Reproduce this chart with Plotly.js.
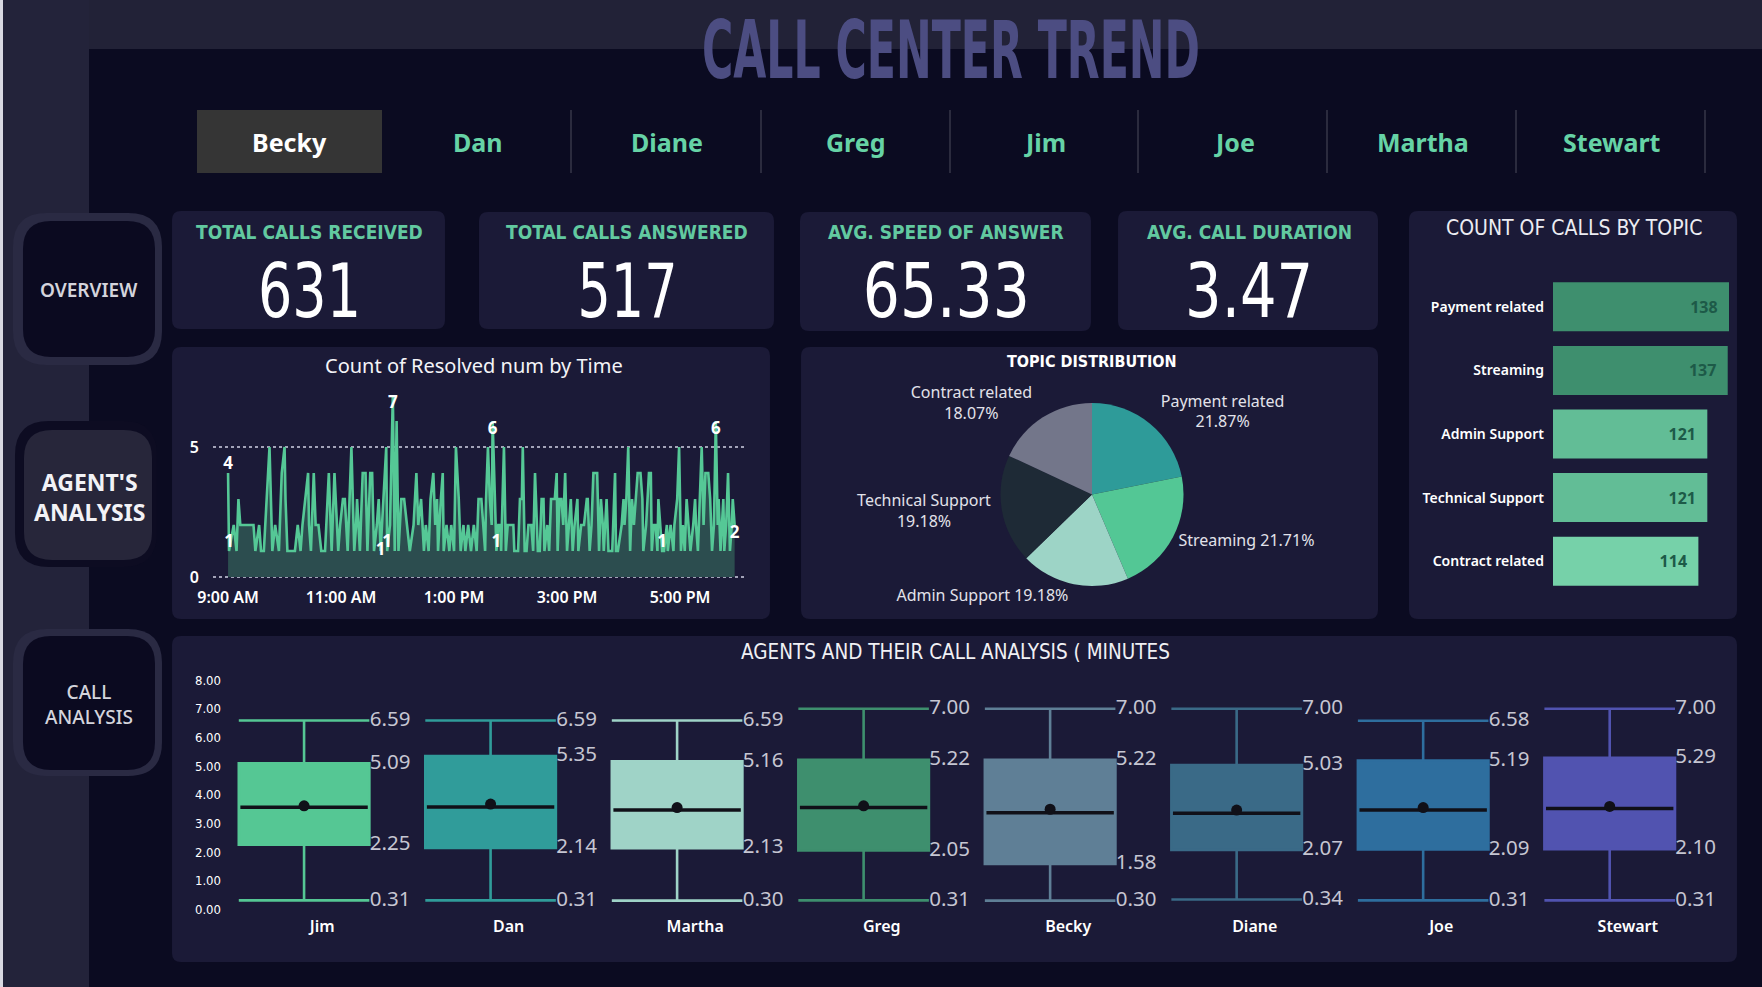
<!DOCTYPE html>
<html>
<head>
<meta charset="utf-8">
<script src="https://cdn.plot.ly/plotly-3.0.1.min.js"></script>
<style>
html,body{margin:0;padding:0;background:#0b0b21;overflow:hidden;}
#chart{width:1762px;height:987px;}
</style>
</head>
<body>
<div id="chart"></div>
<script>
// ---------------- DATA ----------------
const dashboardTitle = 'CALL CENTER TREND';
const tabNames = ['Becky', 'Dan', 'Diane', 'Greg', 'Jim', 'Joe', 'Martha', 'Stewart'];
const selectedTab = 'Becky';
const navItems = ['OVERVIEW', "AGENT'S<br>ANALYSIS", 'CALL<br>ANALYSIS'];

const kpiLabels = ['TOTAL CALLS RECEIVED', 'TOTAL CALLS ANSWERED', 'AVG. SPEED OF ANSWER', 'AVG. CALL DURATION'];
const kpiValues = ['631', '517', '65.33', '3.47'];

const topics = ['Payment related', 'Streaming', 'Admin Support', 'Technical Support', 'Contract related'];
const topicCounts = [138, 137, 121, 121, 114];

// minutes after 9:00 AM and resolved count at that time
const lineMinutes = [0,1,6,9,11,13,20,27,29,33,35,38,44,47,50,54,57,60,61,63,67,71,74,77,79,85,86,88,91,93,96,99,103,107,110,113,117,119,122,124,127,129,131,134,136,137,140,143,146,148,149,151,153,155,158,160,162,165,168,169,172,175,177,179,181,184,187,190,193,197,200,202,205,208,210,213,215,218,220,222,223,226,228,229,232,235,237,240,242,245,247,250,252,255,258,261,264,266,269,271,
273,274,276,278,280,281,283,285,287,289,290,293,295,297,299,303,304,308,310,312,313,315,317,319,322,324,326,327,329,331,333,335,336,339,341,343,347,349,350,352,354,356,358,360,362,364,366,368,371,372,375,378,381,382,384,386,388,392,394,396,398,399,402,404,408,411,412,414,418,420,421,423,425,427,429,431,433,435,438,440,441,444,447,449,450,452,454,456,457,459,461,463,466,467,470,473,474,477,479,481,483,485,487,489,491,494,496,497,499,501,503,505,507,510,512,514,516,518,520,521,523,526,527,529,531,533,535,536,538];
const lineCounts = [4,1,2,1,3,2,2,2,1,2,1,1,5,1,2,1,4,5,3,1,1,1,2,1,2,4,2,1,4,2,2,1,1,4,1,4,1,2,3,3,1,3,5,1,2,3,1,4,4,1,2,4,4,1,2,3,1,3,5,1,2,7,1,6,1,3,3,2,1,2,4,2,3,1,2,1,3,4,2,3,1,3,4,1,2,1,2,1,5,3,1,2,1,2,1,2,1,3,3,2,
1,3,5,3,2,6,3,1,2,2,1,5,1,2,2,2,1,1,3,3,5,1,1,2,2,1,4,3,1,1,3,3,1,2,1,3,3,4,1,3,3,2,4,1,2,3,1,2,3,1,2,2,3,3,1,2,4,4,1,3,2,1,3,1,1,4,1,1,2,3,2,3,5,1,3,2,3,4,4,3,1,2,4,4,1,2,2,1,3,2,1,1,2,1,2,1,2,3,5,1,2,1,3,2,1,2,3,2,1,3,5,2,4,4,3,1,2,6,2,3,1,3,1,2,4,1,2,3,2];
const labeledMinutes = [0, 1, 162, 169, 175, 281, 285, 461, 518, 538];
const labelPositions = ['top center','top center','middle center','top center','bottom center','bottom center','top center','top center','bottom center','bottom center'];
const timeTickMinutes = [0, 120, 240, 360, 480];
const timeTickLabels = ['9:00 AM', '11:00 AM', '1:00 PM', '3:00 PM', '5:00 PM'];

const agents = ['Jim', 'Dan', 'Martha', 'Greg', 'Becky', 'Diane', 'Joe', 'Stewart'];
const boxMin    = [0.31, 0.31, 0.30, 0.31, 0.30, 0.34, 0.31, 0.31];
const boxQ1     = [2.25, 2.14, 2.13, 2.05, 1.58, 2.07, 2.09, 2.10];
const boxMedian = [3.56, 3.57, 3.46, 3.55, 3.37, 3.35, 3.46, 3.52];
const boxMean   = [3.61, 3.67, 3.55, 3.61, 3.49, 3.46, 3.55, 3.59];
const boxQ3     = [5.09, 5.35, 5.16, 5.22, 5.22, 5.03, 5.19, 5.29];
const boxMax    = [6.59, 6.59, 6.59, 7.00, 7.00, 7.00, 6.58, 7.00];
const durationTicks = [0, 1, 2, 3, 4, 5, 6, 7, 8];

// ---------------- STYLE ----------------
const W = 1762, H = 987;
const BG = '#0b0b21', HEADER = '#222237', SIDEBAR = '#23233a', CARD = '#1b1a37';
const MINT = '#66d3a6';
const SANS = '"Noto Sans", "Open Sans", sans-serif';
const COND = '"DejaVu Sans Condensed", "Noto Sans", sans-serif';
const barColors = ['#3e8f6e', '#3e8f6e', '#62bd96', '#62bd96', '#76d1a9'];
const pieColors = ['#2e9b99', '#53c795', '#9dd4c6', '#1e2a36', '#73768a'];
const boxColors = ['#55c794', '#309c9a', '#9fd3c7', '#3e8f6e', '#5f7f96', '#3a6a87', '#2e6e9e', '#5153b0'];
// target drawn widths (px) for condensed display texts
const fitWidths = {};
fitWidths[dashboardTitle] = 498;
const kpiValueWidths = [103, 100, 167, 128];
kpiValues.forEach((v, i) => { fitWidths[v] = kpiValueWidths[i]; });

function P(x, y) { return (x / W).toFixed(5) + ',' + (1 - y / H).toFixed(5); }
function rrect(x0, y0, x1, y1, r, fill) {
  const path = 'M' + P(x0 + r, y0) + ' L' + P(x1 - r, y0) + ' Q' + P(x1, y0) + ' ' + P(x1, y0 + r) +
    ' L' + P(x1, y1 - r) + ' Q' + P(x1, y1) + ' ' + P(x1 - r, y1) +
    ' L' + P(x0 + r, y1) + ' Q' + P(x0, y1) + ' ' + P(x0, y1 - r) +
    ' L' + P(x0, y0 + r) + ' Q' + P(x0, y0) + ' ' + P(x0 + r, y0) + ' Z';
  return {type: 'path', xref: 'paper', yref: 'paper', path: path, fillcolor: fill, line: {width: 0}, layer: 'below'};
}
function rect(x0, y0, x1, y1, fill) {
  return {type: 'rect', xref: 'paper', yref: 'paper', x0: x0 / W, x1: x1 / W, y0: 1 - y1 / H, y1: 1 - y0 / H,
    fillcolor: fill, line: {width: 0}, layer: 'below'};
}
function vline(x, y0, y1, color) {
  return {type: 'line', xref: 'paper', yref: 'paper', x0: x / W, x1: x / W, y0: 1 - y1 / H, y1: 1 - y0 / H,
    line: {color: color, width: 1}, layer: 'below'};
}
function T(text, x, y, size, color, family, weight, xanchor) {
  return {xref: 'paper', yref: 'paper', x: x / W, y: 1 - y / H, text: text, showarrow: false,
    xanchor: xanchor || 'center', yanchor: 'middle', align: 'center',
    font: {size: size, color: color, family: family, weight: weight || 400}};
}
function dom(a, b, total) { return [a / total, b / total]; }
function ydom(top, bottom) { return [1 - bottom / H, 1 - top / H]; }

// ---------------- SHAPES ----------------
const shapes = [];
shapes.push(rect(0, 0, 3, H, '#d9d9e2'));
shapes.push(rect(3, 0, 89, H, SIDEBAR));
shapes.push(rect(89, 0, W, 49, HEADER));
shapes.push(rect(197, 110, 382, 173, '#353535'));
[571, 761, 950, 1138, 1327, 1516, 1705].forEach(x => shapes.push(vline(x, 110, 173, '#4c4c5c')));
shapes.push(rrect(13, 213, 162, 365, 34, '#2a2a43'));
shapes.push(rrect(23, 221, 155, 357, 28, '#0b0a20'));
shapes.push(rrect(15, 421, 157, 567, 34, '#0d0c22'));
shapes.push(rrect(24, 430, 152, 560, 28, '#27263a'));
shapes.push(rrect(13, 629, 162, 776, 34, '#2a2a43'));
shapes.push(rrect(23, 636, 155, 770, 28, '#0b0a20'));
shapes.push(rrect(172, 211, 445, 329, 9, CARD));
shapes.push(rrect(479, 212, 774, 329, 9, CARD));
shapes.push(rrect(800, 212, 1091, 331, 9, CARD));
shapes.push(rrect(1118, 211, 1378, 330, 9, CARD));
shapes.push(rrect(1409, 211, 1737, 619, 9, CARD));
shapes.push(rrect(172, 347, 770, 619, 9, CARD));
shapes.push(rrect(801, 347, 1378, 619, 9, CARD));
shapes.push(rrect(172, 636, 1737, 962, 9, CARD));

// ---------------- ANNOTATIONS ----------------
const annotations = [];
annotations.push(T(dashboardTitle, 951, 50, 80, '#4c4d82', COND, 700));
tabNames.forEach((n, i) => {
  annotations.push(T(n, 289 + i * 189, 142, 25, n === selectedTab ? '#ffffff' : MINT, SANS, 700));
});
annotations.push(T(navItems[0], 89, 290, 19, '#d4d4dc', SANS, 600));
annotations.push(T(navItems[1], 89, 497, 23, '#f2f2f6', SANS, 700));
annotations.push(T(navItems[2], 89, 704, 19, '#d4d4dc', SANS, 500));
const kpiCenters = [309, 627, 946, 1249];
kpiLabels.forEach((l, i) => {
  annotations.push(T(l, kpiCenters[i], 232, 19, '#62c9a0', COND, 700));
  annotations.push(T(kpiValues[i], kpiCenters[i], 291, 74, '#ffffff', COND, 400));
});
annotations.push(T('COUNT OF CALLS BY TOPIC', 1574, 228, 21, '#ececf2', COND, 400));
annotations.push(T('Count of Resolved num by Time', 474, 365, 20, '#f4f4f8', SANS, 400));
annotations.push(T('TOPIC DISTRIBUTION', 1092, 362, 16, '#ffffff', COND, 700));
annotations.push(T('AGENTS AND THEIR CALL ANALYSIS ( MINUTES', 955, 652, 20.5, '#f0f0f4', COND, 400));

// ---------------- TRACES ----------------
const data = [];
data.push({type: 'scatter', mode: 'lines', x: lineMinutes, y: lineCounts, xaxis: 'x', yaxis: 'y',
  line: {color: '#55c896', width: 2.6}, fill: 'tozeroy', fillcolor: '#2c4d4f', hoverinfo: 'skip'});
const lblX = [], lblY = [];
labeledMinutes.forEach(m => { const k = lineMinutes.indexOf(m); lblX.push(m); lblY.push(lineCounts[k]); });
data.push({type: 'scatter', mode: 'text', x: lblX, y: lblY, text: lblY.map(String), textposition: labelPositions,
  xaxis: 'x', yaxis: 'y', cliponaxis: false, textfont: {color: '#ffffff', size: 17, family: SANS, weight: 700}, hoverinfo: 'skip'});

data.push({type: 'pie', labels: topics, values: topicCounts, sort: false, direction: 'clockwise', rotation: 0,
  marker: {colors: pieColors, line: {width: 0}},
  texttemplate: ['%{label}<br>%{percent:.2%}', '%{label} %{percent:.2%}', '%{label} %{percent:.2%}', '%{label}<br>%{percent:.2%}', '%{label}<br>%{percent:.2%}'],
  textposition: 'outside', outsidetextfont: {color: '#e2e2ea', size: 16, family: SANS},
  domain: {x: dom(1000.5, 1183.5, W), y: ydom(403, 586)}, showlegend: false, hoverinfo: 'skip', automargin: false});

data.push({type: 'bar', orientation: 'h', y: topics, x: topicCounts, xaxis: 'x2', yaxis: 'y2',
  marker: {color: barColors}, width: 0.77, texttemplate: '%{x}\u00a0\u00a0', textposition: 'inside', insidetextanchor: 'end',
  textfont: {color: '#1d5a48', size: 16, family: SANS, weight: 700}, hoverinfo: 'skip'});

agents.forEach((a, i) => {
  data.push({type: 'box', x: [i], q1: [boxQ1[i]], median: [boxMedian[i]], q3: [boxQ3[i]],
    lowerfence: [boxMin[i]], upperfence: [boxMax[i]], xaxis: 'x3', yaxis: 'y3',
    fillcolor: boxColors[i], line: {color: boxColors[i], width: 2.6}, width: 0.7, whiskerwidth: 1,
    boxpoints: false, hoverinfo: 'skip', showlegend: false});
});
const idx = agents.map((a, i) => i);
data.push({type: 'scatter', mode: 'markers', x: idx, y: boxMedian, xaxis: 'x3', yaxis: 'y3', cliponaxis: false,
  marker: {symbol: 'line-ew', size: 91, line: {width: 3.5, color: '#101018'}}, hoverinfo: 'skip'});
data.push({type: 'scatter', mode: 'markers', x: idx, y: boxMean, xaxis: 'x3', yaxis: 'y3', cliponaxis: false,
  marker: {symbol: 'circle', size: 11, color: '#101018'}, hoverinfo: 'skip'});
const bx = [], by = [], bt = [];
idx.forEach(i => {
  [boxMax[i], boxQ3[i], boxQ1[i], boxMin[i]].forEach(v => { bx.push(i + 0.352); by.push(v); bt.push(v.toFixed(2)); });
});
data.push({type: 'scatter', mode: 'text', x: bx, y: by, text: bt, textposition: 'middle right', xaxis: 'x3', yaxis: 'y3',
  textfont: {color: '#c6c6d2', size: 20.5, family: SANS}, hoverinfo: 'skip'});

// ---------------- LAYOUT ----------------
const layout = {
  width: W, height: H, margin: {l: 0, r: 0, t: 0, b: 0},
  paper_bgcolor: BG, plot_bgcolor: 'rgba(0,0,0,0)', showlegend: false, hovermode: false,
  font: {family: SANS, color: '#ffffff'},
  shapes: shapes, annotations: annotations,
  xaxis: {domain: dom(213, 745, W), range: [-16, 549], tickvals: timeTickMinutes, ticktext: timeTickLabels,
    showgrid: false, zeroline: false, showline: false, ticks: '', ticklabelstandoff: 6,
    tickfont: {size: 16, color: '#ffffff', weight: 600}, anchor: 'y'},
  yaxis: {domain: ydom(382, 580), range: [-0.115, 7.5], tickvals: [0, 5], showgrid: true, gridcolor: '#a3a3b8',
    griddash: 'dot', gridwidth: 1.6, zeroline: false, showline: false, ticks: '', ticklabelstandoff: 13,
    tickfont: {size: 16, color: '#ffffff', weight: 600}, anchor: 'x'},
  xaxis2: {domain: dom(1553, 1729, W), range: [0, 138], visible: false, anchor: 'y2'},
  yaxis2: {domain: ydom(275, 593), type: 'category', autorange: 'reversed', showgrid: false, zeroline: false, ticks: '',
    ticklabelstandoff: 8, tickfont: {size: 14, color: '#ffffff', weight: 600}, anchor: 'x2'},
  xaxis3: {domain: dom(222, 1716, W), range: [-0.44, 7.57], tickvals: idx.map(i => i + 0.097), ticktext: agents,
    showgrid: false, zeroline: false, ticks: '', tickfont: {size: 16, color: '#ffffff', weight: 600}, anchor: 'y3'},
  yaxis3: {domain: ydom(674.3, 915), range: [-0.2, 8.2], tickvals: durationTicks, tickformat: '.2f', showgrid: false,
    zeroline: false, ticks: '', tickfont: {size: 13, color: '#ffffff', family: COND}, anchor: 'x3'}
};

Plotly.newPlot('chart', data, layout, {staticPlot: true}).then(gd => {
  // compress condensed display texts to their reference widths
  gd.querySelectorAll('.annotation-text').forEach(el => {
    const w = fitWidths[el.textContent];
    if (w) {
      el.setAttribute('textLength', w);
      el.setAttribute('lengthAdjust', 'spacingAndGlyphs');
    }
  });
});
</script>
</body>
</html>
